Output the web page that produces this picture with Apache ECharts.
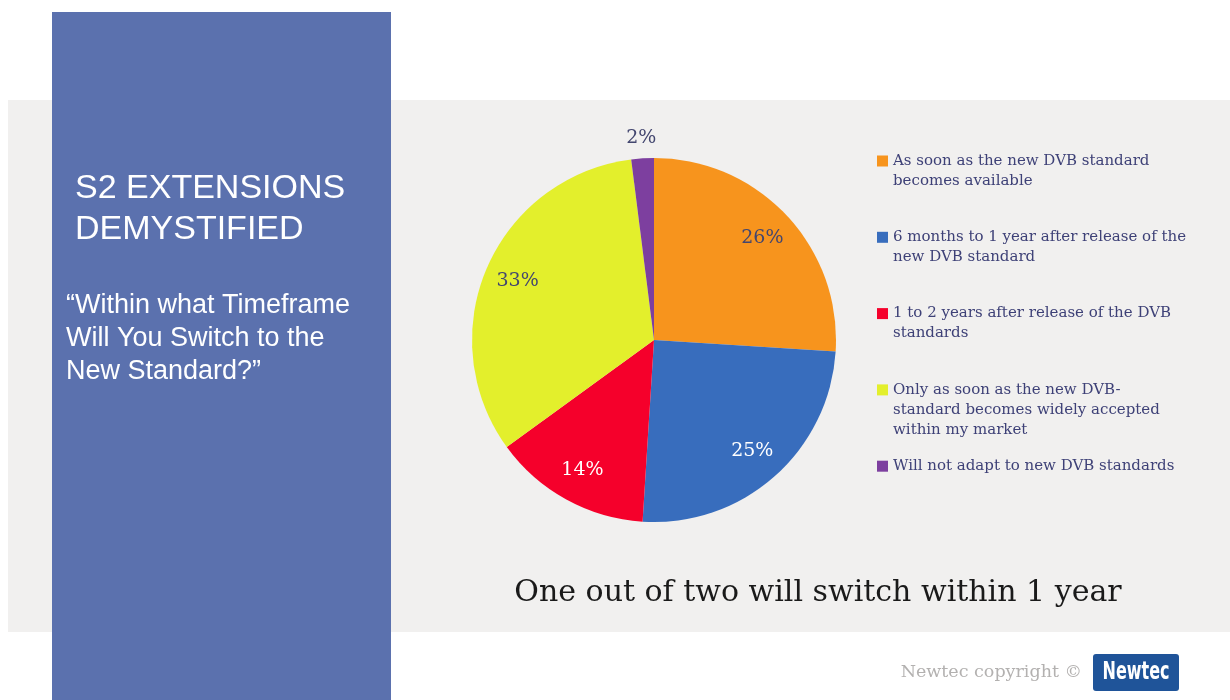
<!DOCTYPE html>
<html>
<head>
<meta charset="utf-8">
<script src="https://cdn.jsdelivr.net/npm/echarts@6/dist/echarts.min.js"></script>
<style>
  html, body { margin: 0; padding: 0; background: #ffffff; }
  #chart { width: 1230px; height: 700px; }
</style>
</head>
<body>
<div id="chart"></div>
<script>
// Survey answers: "Within what timeframe will you switch to the new standard?"
const categories = [
  'As soon as the new DVB standard\nbecomes available',
  '6 months to 1 year after release of the\nnew DVB standard',
  '1 to 2 years after release of the DVB\nstandards',
  'Only as soon as the new DVB-\nstandard becomes widely accepted\nwithin my market',
  'Will not adapt to new DVB standards'
];
const shares = [26, 25, 14, 33, 2];          // percent of respondents
const sliceColors = ['#f7941d', '#386dbd', '#f5002b', '#e3ef2c', '#7d3f9f'];
const labelColors = ['#43466f', '#ffffff', '#ffffff', '#43466f', '#43466f'];

const SERIF = '"DejaVu Serif", "Liberation Serif", serif';
const SANS = '"Liberation Sans", Arial, sans-serif';

const PIE_CENTER = [654, 340];
const PIE_R = 182;
const LEGEND_LEFT = 877;
const LEGEND_FIRST = 161;   // centre of the first line of the first entry
const LEGEND_STEP = 76.3;
const LINE_H = 20;

const pieData = categories.map((name, i) => ({
  name,
  value: shares[i],
  itemStyle: { color: sliceColors[i] }
}));

// invisible rings used only to place the percentage labels
function labelRing(radius, showIdx) {
  return {
    type: 'pie',
    silent: true,
    center: PIE_CENTER,
    radius,
    startAngle: 90,
    clockwise: true,
    avoidLabelOverlap: false,
    emphasis: { disabled: true },
    labelLine: { show: false },
    itemStyle: { color: 'transparent', borderWidth: 0 },
    data: categories.map((name, i) => ({
      name,
      value: shares[i],
      itemStyle: { color: 'transparent' },
      label: {
        show: showIdx(i),
        position: 'inside',
        formatter: '{c}%',
        color: labelColors[i],
        fontFamily: SERIF,
        fontSize: 19
      }
    }))
  };
}

const legends = categories.map((name, i) => {
  const lines = name.split('\n').length;
  return {
    data: [{ name, icon: 'rect' }],
    orient: 'vertical',
    left: LEGEND_LEFT,
    top: LEGEND_FIRST + i * LEGEND_STEP - (2 * lines - 1) * LINE_H / 2,
    padding: 0,
    itemWidth: 11,
    itemHeight: 11,
    itemGap: 0,
    selectedMode: false,
    // leading blank lines keep the marker level with the entry's first line
    formatter: (n) => '\n'.repeat(n.split('\n').length - 1) + n,
    textStyle: { fontFamily: SERIF, fontSize: 15, lineHeight: LINE_H, color: '#3e4177' }
  };
});

const chart = echarts.init(document.getElementById('chart'), null, { renderer: 'canvas' });
chart.setOption({
  animation: false,
  backgroundColor: '#ffffff',
  graphic: [
    { type: 'rect', z: -10, shape: { x: 8, y: 100, width: 1222, height: 532 }, style: { fill: '#f1f0ef' } },
    { type: 'rect', z: -5, shape: { x: 52, y: 12, width: 339, height: 688 }, style: { fill: '#5b71ae' } },
    { type: 'text', right: 148, top: 663,
      style: { text: 'Newtec copyright ©', fill: '#b3b1b0', font: '17.5px ' + SERIF } },
    { type: 'rect', shape: { x: 1093, y: 654, width: 86, height: 37, r: 3 }, style: { fill: '#1f5499' } },
    { type: 'text', x: 1136, y: 673, scaleX: 0.74,
      style: { text: 'Newtec', fill: '#ffffff', align: 'center', verticalAlign: 'middle',
               font: 'bold 24px "Liberation Sans Narrow", "DejaVu Sans Condensed", ' + SANS } }
  ],
  title: [
    { text: 'S2 EXTENSIONS\nDEMYSTIFIED', left: 75, top: 168, padding: 0,
      textStyle: { color: '#ffffff', fontFamily: SANS, fontWeight: 'normal', fontSize: 34, lineHeight: 41 } },
    { text: '“Within what Timeframe\nWill You Switch to the\nNew Standard?”', left: 66, top: 289, padding: 0,
      textStyle: { color: '#ffffff', fontFamily: SANS, fontWeight: 'normal', fontSize: 27, lineHeight: 33 } },
    { text: 'One out of two will switch within 1 year', left: 818, top: 574, textAlign: 'center', padding: 0,
      textStyle: { color: '#1a1a1a', fontFamily: SERIF, fontWeight: 'normal', fontSize: 30, lineHeight: 38 } }
  ],
  legend: legends,
  series: [
    {
      type: 'pie',
      silent: true,
      center: PIE_CENTER,
      radius: PIE_R,
      startAngle: 90,
      clockwise: true,
      emphasis: { disabled: true },
      label: { show: false },
      labelLine: { show: false },
      data: pieData
    },
    labelRing([PIE_R * 0.6, PIE_R], (i) => shares[i] >= 5),
    labelRing([PIE_R, PIE_R + 34], (i) => shares[i] < 5)
  ]
});
</script>
</body>
</html>
